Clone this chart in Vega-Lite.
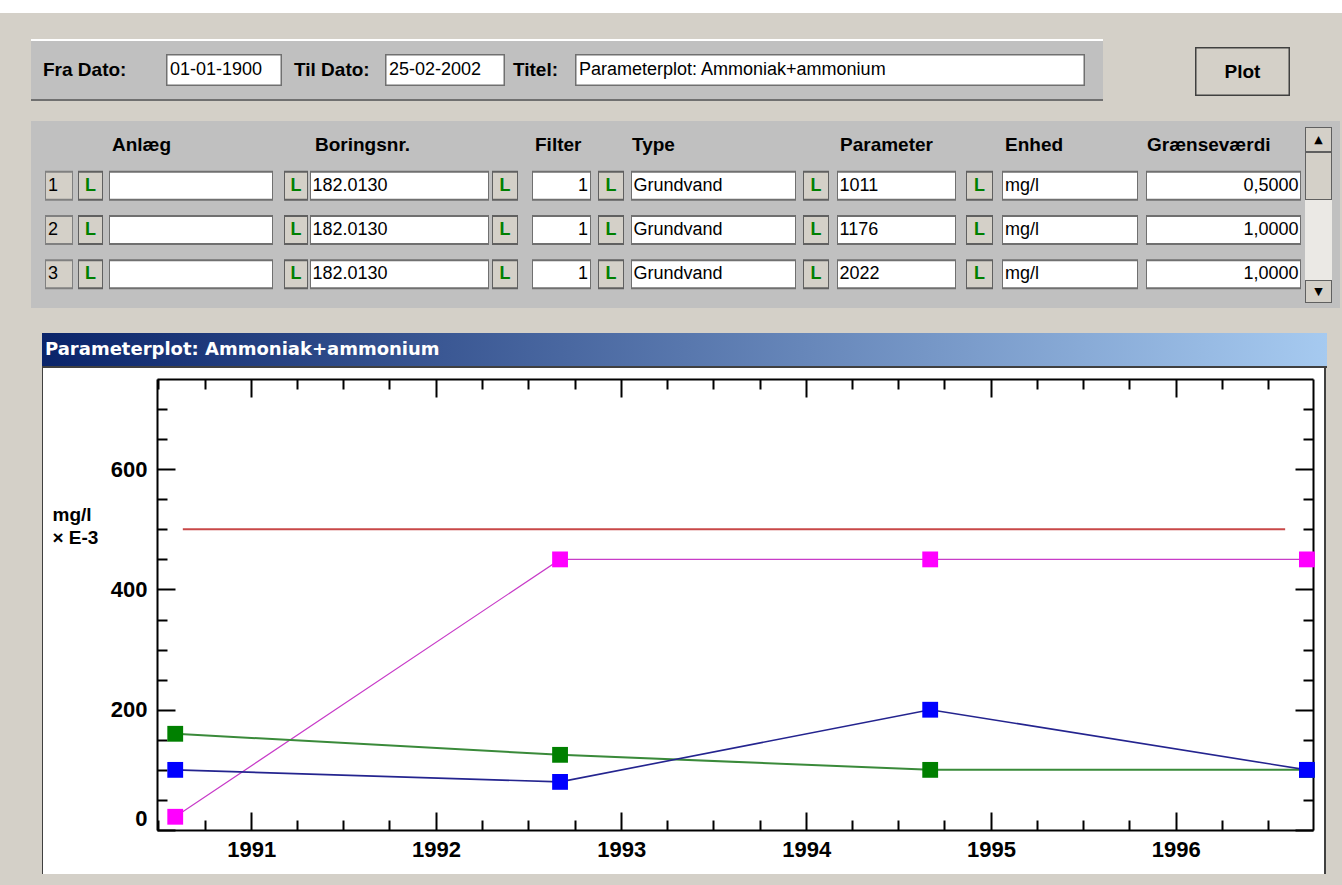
{
"$schema":"https://vega.github.io/schema/vega-lite/v6.json",
"background":"#d4d0c8",
"padding":0,
"spacing":0,
"config":{"view":{"stroke":null},"concat":{"spacing":0},"text":{"font":"Liberation Sans","fontSize":18,"color":"black"}},
"datasets":{
 "rows":[
  {"nr":"1","anlaeg":"","boring":"182.0130","filter":"1","type":"Grundvand","param":"1011","enhed":"mg/l","graense":"0,5000"},
  {"nr":"2","anlaeg":"","boring":"182.0130","filter":"1","type":"Grundvand","param":"1176","enhed":"mg/l","graense":"1,0000"},
  {"nr":"3","anlaeg":"","boring":"182.0130","filter":"1","type":"Grundvand","param":"2022","enhed":"mg/l","graense":"1,0000"}
 ],
 "series":[
  {"s":"1011","date":"1990-08-04","v":22},{"s":"1011","date":"1992-09-02","v":450},{"s":"1011","date":"1994-09-03","v":450},{"s":"1011","date":"1996-09-16","v":450},
  {"s":"2022","date":"1990-08-04","v":160},{"s":"2022","date":"1992-09-02","v":125},{"s":"2022","date":"1994-09-03","v":100},{"s":"2022","date":"1996-09-16","v":100},
  {"s":"1176","date":"1990-08-04","v":100},{"s":"1176","date":"1992-09-02","v":80},{"s":"1176","date":"1994-09-03","v":200},{"s":"1176","date":"1996-09-16","v":100}
 ],
 "limit":[{"date":"1990-08-19","v":500},{"date":"1996-08-04","v":500}]
},
"vconcat":[
 {"width":1342,"height":13,"data":{"values":[]},"mark":"rect","encoding":{},"view":{"fill":"#ffffff"}},
 {"width":1342,"height":26,"data":{"values":[]},"mark":"rect","encoding":{},"view":{"fill":"#d4d0c8"}},
 {"hconcat":[
   {"width":31,"height":62,"data":{"values":[]},"mark":"rect","encoding":{},"view":{"fill":"#d4d0c8"}},
   {"vconcat":[
     {"width":1072,"height":2,"data":{"values":[]},"mark":"rect","encoding":{},"view":{"fill":"#ffffff"}},
     {"hconcat":[
       {"width":135,"height":58,"data":{"values":[{"t":"Fra Dato:"}]},"mark":{"type":"text","align":"left","dx":-55.5,"fontWeight":"bold","fontSize":19},"encoding":{"text":{"field":"t"}},"view":{"fill":"#c0c0c0"}},
       {"vconcat":[
         {"width":116,"height":13,"data":{"values":[]},"mark":"rect","encoding":{},"view":{"fill":"#c0c0c0"}},
         {"width":116,"height":32,"data":{"values":[{"t":"01-01-1900"}]},"layer":[{"mark":{"type":"rect","fill":"white","stroke":"#707070","strokeWidth":3,"clip":true},"encoding":{}},{"mark":{"type":"text","align":"left","dx":-54},"encoding":{"text":{"field":"t"}}}]},
         {"width":116,"height":13,"data":{"values":[]},"mark":"rect","encoding":{},"view":{"fill":"#c0c0c0"}}
       ],"spacing":0},
       {"width":103,"height":58,"data":{"values":[{"t":"Til Dato:"}]},"mark":{"type":"text","align":"left","dx":-39.5,"fontWeight":"bold","fontSize":19},"encoding":{"text":{"field":"t"}},"view":{"fill":"#c0c0c0"}},
       {"vconcat":[
         {"width":120,"height":13,"data":{"values":[]},"mark":"rect","encoding":{},"view":{"fill":"#c0c0c0"}},
         {"width":120,"height":32,"data":{"values":[{"t":"25-02-2002"}]},"layer":[{"mark":{"type":"rect","fill":"white","stroke":"#707070","strokeWidth":3,"clip":true},"encoding":{}},{"mark":{"type":"text","align":"left","dx":-56},"encoding":{"text":{"field":"t"}}}]},
         {"width":120,"height":13,"data":{"values":[]},"mark":"rect","encoding":{},"view":{"fill":"#c0c0c0"}}
       ],"spacing":0},
       {"width":70,"height":58,"data":{"values":[{"t":"Titel:"}]},"mark":{"type":"text","align":"left","dx":-27,"fontWeight":"bold","fontSize":19},"encoding":{"text":{"field":"t"}},"view":{"fill":"#c0c0c0"}},
       {"vconcat":[
         {"width":510,"height":13,"data":{"values":[]},"mark":"rect","encoding":{},"view":{"fill":"#c0c0c0"}},
         {"width":510,"height":32,"data":{"values":[{"t":"Parameterplot: Ammoniak+ammonium"}]},"layer":[{"mark":{"type":"rect","fill":"white","stroke":"#707070","strokeWidth":3,"clip":true},"encoding":{}},{"mark":{"type":"text","align":"left","dx":-251},"encoding":{"text":{"field":"t"}}}]},
         {"width":510,"height":13,"data":{"values":[]},"mark":"rect","encoding":{},"view":{"fill":"#c0c0c0"}}
       ],"spacing":0},
       {"width":18,"height":58,"data":{"values":[]},"mark":"rect","encoding":{},"view":{"fill":"#c0c0c0"}}
     ],"spacing":0},
     {"width":1072,"height":2,"data":{"values":[]},"mark":"rect","encoding":{},"view":{"fill":"#707070"}}
   ],"spacing":0},
   {"width":92,"height":62,"data":{"values":[]},"mark":"rect","encoding":{},"view":{"fill":"#d4d0c8"}},
   {"vconcat":[
     {"width":95,"height":8,"data":{"values":[]},"mark":"rect","encoding":{},"view":{"fill":"#d4d0c8"}},
     {"width":95,"height":49,"data":{"values":[{"t":"Plot"}]},"layer":[{"mark":{"type":"rect","fill":"#d4d0c8","stroke":"#404040","strokeWidth":3,"clip":true},"encoding":{}},{"mark":{"type":"text","fontWeight":"bold","fontSize":19},"encoding":{"text":{"field":"t"}}}]},
     {"width":95,"height":5,"data":{"values":[]},"mark":"rect","encoding":{},"view":{"fill":"#d4d0c8"}}
   ],"spacing":0},
   {"width":52,"height":62,"data":{"values":[]},"mark":"rect","encoding":{},"view":{"fill":"#d4d0c8"}}
 ],"spacing":0},
 {"width":1342,"height":20,"data":{"values":[]},"mark":"rect","encoding":{},"view":{"fill":"#d4d0c8"}},
 {"hconcat":[
   {"width":31,"height":187,"data":{"values":[]},"mark":"rect","encoding":{},"view":{"fill":"#d4d0c8"}},
   {"vconcat":[
     {"hconcat":[
       {"width":14,"height":176,"data":{"values":[]},"mark":"rect","encoding":{},"view":{"fill":"#c0c0c0"}},
       {"vconcat":[
         {"width":28,"height":42,"data":{"values":[]},"mark":"rect","encoding":{},"view":{"fill":"#c0c0c0"}},
         {"width":28,"height":134,"data":{"name":"rows"},"encoding":{"y":{"field":"nr","type":"ordinal","axis":null,"scale":{"paddingInner":0.37,"paddingOuter":0.2}}},"layer":[{"mark":{"type":"rect","fill":"#d4d0c8","stroke":"#808080","strokeWidth":2,"clip":true}},{"mark":{"type":"text","align":"left","dx":-11},"encoding":{"text":{"field":"nr"}}}],"view":{"fill":"#c0c0c0"}}
       ],"spacing":0},
       {"width":5,"height":176,"data":{"values":[]},"mark":"rect","encoding":{},"view":{"fill":"#c0c0c0"}},
       {"vconcat":[
         {"width":25,"height":42,"data":{"values":[]},"mark":"rect","encoding":{},"view":{"fill":"#c0c0c0"}},
         {"width":25,"height":134,"data":{"name":"rows"},"encoding":{"y":{"field":"nr","type":"ordinal","axis":null,"scale":{"paddingInner":0.37,"paddingOuter":0.2}}},"layer":[{"mark":{"type":"rect","fill":"#d4d0c8","stroke":"#606060","strokeWidth":2,"clip":true}},{"mark":{"type":"text","fontWeight":"bold","color":"#008000"},"encoding":{"text":{"value":"L"}}}],"view":{"fill":"#c0c0c0"}}
       ],"spacing":0},
       {"width":6,"height":176,"data":{"values":[]},"mark":"rect","encoding":{},"view":{"fill":"#c0c0c0"}},
       {"vconcat":[
         {"width":164,"height":42,"data":{"values":[{"t":"Anlæg"}]},"mark":{"type":"text","align":"left","dx":-79,"dy":3,"fontWeight":"bold","fontSize":19},"encoding":{"text":{"field":"t"}},"view":{"fill":"#c0c0c0"}},
         {"width":164,"height":134,"data":{"name":"rows"},"encoding":{"y":{"field":"nr","type":"ordinal","axis":null,"scale":{"paddingInner":0.37,"paddingOuter":0.2}}},"layer":[{"mark":{"type":"rect","fill":"white","stroke":"#707070","strokeWidth":2,"clip":true}},{"mark":{"type":"text","align":"left","dx":-79},"encoding":{"text":{"field":"anlaeg"}}}],"view":{"fill":"#c0c0c0"}}
       ],"spacing":0},
       {"width":11,"height":176,"data":{"values":[]},"mark":"rect","encoding":{},"view":{"fill":"#c0c0c0"}},
       {"vconcat":[
         {"width":24,"height":42,"data":{"values":[]},"mark":"rect","encoding":{},"view":{"fill":"#c0c0c0"}},
         {"width":24,"height":134,"data":{"name":"rows"},"encoding":{"y":{"field":"nr","type":"ordinal","axis":null,"scale":{"paddingInner":0.37,"paddingOuter":0.2}}},"layer":[{"mark":{"type":"rect","fill":"#d4d0c8","stroke":"#606060","strokeWidth":2,"clip":true}},{"mark":{"type":"text","fontWeight":"bold","color":"#008000"},"encoding":{"text":{"value":"L"}}}],"view":{"fill":"#c0c0c0"}}
       ],"spacing":0},
       {"width":2,"height":176,"data":{"values":[]},"mark":"rect","encoding":{},"view":{"fill":"#c0c0c0"}},
       {"vconcat":[
         {"width":179,"height":42,"data":{"values":[{"t":"Boringsnr."}]},"mark":{"type":"text","align":"left","dx":-84.5,"dy":3,"fontWeight":"bold","fontSize":19},"encoding":{"text":{"field":"t"}},"view":{"fill":"#c0c0c0"}},
         {"width":179,"height":134,"data":{"name":"rows"},"encoding":{"y":{"field":"nr","type":"ordinal","axis":null,"scale":{"paddingInner":0.37,"paddingOuter":0.2}}},"layer":[{"mark":{"type":"rect","fill":"white","stroke":"#707070","strokeWidth":2,"clip":true}},{"mark":{"type":"text","align":"left","dx":-87},"encoding":{"text":{"field":"boring"}}}],"view":{"fill":"#c0c0c0"}}
       ],"spacing":0},
       {"width":3,"height":176,"data":{"values":[]},"mark":"rect","encoding":{},"view":{"fill":"#c0c0c0"}},
       {"vconcat":[
         {"width":26,"height":42,"data":{"values":[]},"mark":"rect","encoding":{},"view":{"fill":"#c0c0c0"}},
         {"width":26,"height":134,"data":{"name":"rows"},"encoding":{"y":{"field":"nr","type":"ordinal","axis":null,"scale":{"paddingInner":0.37,"paddingOuter":0.2}}},"layer":[{"mark":{"type":"rect","fill":"#d4d0c8","stroke":"#606060","strokeWidth":2,"clip":true}},{"mark":{"type":"text","fontWeight":"bold","color":"#008000"},"encoding":{"text":{"value":"L"}}}],"view":{"fill":"#c0c0c0"}}
       ],"spacing":0},
       {"width":14,"height":176,"data":{"values":[]},"mark":"rect","encoding":{},"view":{"fill":"#c0c0c0"}},
       {"vconcat":[
         {"width":59,"height":42,"data":{"values":[{"t":"Filter"}]},"mark":{"type":"text","align":"left","dx":-26.5,"dy":3,"fontWeight":"bold","fontSize":19},"encoding":{"text":{"field":"t"}},"view":{"fill":"#c0c0c0"}},
         {"width":59,"height":134,"data":{"name":"rows"},"encoding":{"y":{"field":"nr","type":"ordinal","axis":null,"scale":{"paddingInner":0.37,"paddingOuter":0.2}}},"layer":[{"mark":{"type":"rect","fill":"white","stroke":"#707070","strokeWidth":2,"clip":true}},{"mark":{"type":"text","align":"right","dx":26.5},"encoding":{"text":{"field":"filter"}}}],"view":{"fill":"#c0c0c0"}}
       ],"spacing":0},
       {"width":7,"height":176,"data":{"values":[]},"mark":"rect","encoding":{},"view":{"fill":"#c0c0c0"}},
       {"vconcat":[
         {"width":26,"height":42,"data":{"values":[]},"mark":"rect","encoding":{},"view":{"fill":"#c0c0c0"}},
         {"width":26,"height":134,"data":{"name":"rows"},"encoding":{"y":{"field":"nr","type":"ordinal","axis":null,"scale":{"paddingInner":0.37,"paddingOuter":0.2}}},"layer":[{"mark":{"type":"rect","fill":"#d4d0c8","stroke":"#606060","strokeWidth":2,"clip":true}},{"mark":{"type":"text","fontWeight":"bold","color":"#008000"},"encoding":{"text":{"value":"L"}}}],"view":{"fill":"#c0c0c0"}}
       ],"spacing":0},
       {"width":7,"height":176,"data":{"values":[]},"mark":"rect","encoding":{},"view":{"fill":"#c0c0c0"}},
       {"vconcat":[
         {"width":165,"height":42,"data":{"values":[{"t":"Type"}]},"mark":{"type":"text","align":"left","dx":-81.5,"dy":3,"fontWeight":"bold","fontSize":19},"encoding":{"text":{"field":"t"}},"view":{"fill":"#c0c0c0"}},
         {"width":165,"height":134,"data":{"name":"rows"},"encoding":{"y":{"field":"nr","type":"ordinal","axis":null,"scale":{"paddingInner":0.37,"paddingOuter":0.2}}},"layer":[{"mark":{"type":"rect","fill":"white","stroke":"#707070","strokeWidth":2,"clip":true}},{"mark":{"type":"text","align":"left","dx":-80},"encoding":{"text":{"field":"type"}}}],"view":{"fill":"#c0c0c0"}}
       ],"spacing":0},
       {"width":7,"height":176,"data":{"values":[]},"mark":"rect","encoding":{},"view":{"fill":"#c0c0c0"}},
       {"vconcat":[
         {"width":26,"height":42,"data":{"values":[]},"mark":"rect","encoding":{},"view":{"fill":"#c0c0c0"}},
         {"width":26,"height":134,"data":{"name":"rows"},"encoding":{"y":{"field":"nr","type":"ordinal","axis":null,"scale":{"paddingInner":0.37,"paddingOuter":0.2}}},"layer":[{"mark":{"type":"rect","fill":"#d4d0c8","stroke":"#606060","strokeWidth":2,"clip":true}},{"mark":{"type":"text","fontWeight":"bold","color":"#008000"},"encoding":{"text":{"value":"L"}}}],"view":{"fill":"#c0c0c0"}}
       ],"spacing":0},
       {"width":8,"height":176,"data":{"values":[]},"mark":"rect","encoding":{},"view":{"fill":"#c0c0c0"}},
       {"vconcat":[
         {"width":119,"height":42,"data":{"values":[{"t":"Parameter"}]},"mark":{"type":"text","align":"left","dx":-56.5,"dy":3,"fontWeight":"bold","fontSize":19},"encoding":{"text":{"field":"t"}},"view":{"fill":"#c0c0c0"}},
         {"width":119,"height":134,"data":{"name":"rows"},"encoding":{"y":{"field":"nr","type":"ordinal","axis":null,"scale":{"paddingInner":0.37,"paddingOuter":0.2}}},"layer":[{"mark":{"type":"rect","fill":"white","stroke":"#707070","strokeWidth":2,"clip":true}},{"mark":{"type":"text","align":"left","dx":-57},"encoding":{"text":{"field":"param"}}}],"view":{"fill":"#c0c0c0"}}
       ],"spacing":0},
       {"width":10,"height":176,"data":{"values":[]},"mark":"rect","encoding":{},"view":{"fill":"#c0c0c0"}},
       {"vconcat":[
         {"width":27,"height":42,"data":{"values":[]},"mark":"rect","encoding":{},"view":{"fill":"#c0c0c0"}},
         {"width":27,"height":134,"data":{"name":"rows"},"encoding":{"y":{"field":"nr","type":"ordinal","axis":null,"scale":{"paddingInner":0.37,"paddingOuter":0.2}}},"layer":[{"mark":{"type":"rect","fill":"#d4d0c8","stroke":"#606060","strokeWidth":2,"clip":true}},{"mark":{"type":"text","fontWeight":"bold","color":"#008000"},"encoding":{"text":{"value":"L"}}}],"view":{"fill":"#c0c0c0"}}
       ],"spacing":0},
       {"width":9,"height":176,"data":{"values":[]},"mark":"rect","encoding":{},"view":{"fill":"#c0c0c0"}},
       {"vconcat":[
         {"width":136,"height":42,"data":{"values":[{"t":"Enhed"}]},"mark":{"type":"text","align":"left","dx":-65,"dy":3,"fontWeight":"bold","fontSize":19},"encoding":{"text":{"field":"t"}},"view":{"fill":"#c0c0c0"}},
         {"width":136,"height":134,"data":{"name":"rows"},"encoding":{"y":{"field":"nr","type":"ordinal","axis":null,"scale":{"paddingInner":0.37,"paddingOuter":0.2}}},"layer":[{"mark":{"type":"rect","fill":"white","stroke":"#707070","strokeWidth":2,"clip":true}},{"mark":{"type":"text","align":"left","dx":-65},"encoding":{"text":{"field":"enhed"}}}],"view":{"fill":"#c0c0c0"}}
       ],"spacing":0},
       {"width":8,"height":176,"data":{"values":[]},"mark":"rect","encoding":{},"view":{"fill":"#c0c0c0"}},
       {"vconcat":[
         {"width":155,"height":42,"data":{"values":[{"t":"Grænseværdi"}]},"mark":{"type":"text","align":"left","dx":-76.5,"dy":3,"fontWeight":"bold","fontSize":19},"encoding":{"text":{"field":"t"}},"view":{"fill":"#c0c0c0"}},
         {"width":155,"height":134,"data":{"name":"rows"},"encoding":{"y":{"field":"nr","type":"ordinal","axis":null,"scale":{"paddingInner":0.37,"paddingOuter":0.2}}},"layer":[{"mark":{"type":"rect","fill":"white","stroke":"#707070","strokeWidth":2,"clip":true}},{"mark":{"type":"text","align":"right","dx":75},"encoding":{"text":{"field":"graense"}}}],"view":{"fill":"#c0c0c0"}}
       ],"spacing":0},
       {"width":4,"height":176,"data":{"values":[]},"mark":"rect","encoding":{},"view":{"fill":"#c0c0c0"}}
     ],"spacing":0},
     {"width":1274,"height":11,"data":{"values":[]},"mark":"rect","encoding":{},"view":{"fill":"#c0c0c0"}}
   ],"spacing":0},
   {"vconcat":[
     {"width":27,"height":6,"data":{"values":[]},"mark":"rect","encoding":{},"view":{"fill":"#c0c0c0"}},
     {"width":27,"height":25,"data":{"values":[{"t":"▲"}]},"layer":[{"mark":{"type":"rect","fill":"#d4d0c8","stroke":"#606060","strokeWidth":2,"clip":true},"encoding":{}},{"mark":{"type":"text","font":"DejaVu Sans","fontSize":11},"encoding":{"text":{"field":"t"}}}]},
     {"width":27,"height":48,"data":{"values":[{}]},"mark":{"type":"rect","fill":"#d4d0c8","stroke":"#606060","strokeWidth":2,"clip":true},"encoding":{}},
     {"width":27,"height":80,"data":{"values":[]},"mark":"rect","encoding":{},"view":{"fill":"#ebe9e5"}},
     {"width":27,"height":23,"data":{"values":[{"t":"▼"}]},"layer":[{"mark":{"type":"rect","fill":"#d4d0c8","stroke":"#606060","strokeWidth":2,"clip":true},"encoding":{}},{"mark":{"type":"text","font":"DejaVu Sans","fontSize":11},"encoding":{"text":{"field":"t"}}}]},
     {"width":27,"height":5,"data":{"values":[]},"mark":"rect","encoding":{},"view":{"fill":"#c0c0c0"}}
   ],"spacing":0},
   {"width":8,"height":187,"data":{"values":[]},"mark":"rect","encoding":{},"view":{"fill":"#c0c0c0"}},
   {"width":2,"height":187,"data":{"values":[]},"mark":"rect","encoding":{},"view":{"fill":"#d4d0c8"}}
 ],"spacing":0},
 {"width":1342,"height":17,"data":{"values":[]},"mark":"rect","encoding":{},"view":{"fill":"#d4d0c8"}},
 {"hconcat":[
   {"width":42,"height":560,"data":{"values":[]},"mark":"rect","encoding":{},"view":{"fill":"#d4d0c8"}},
   {"vconcat":[
     {"width":1285,"height":8,"data":{"values":[]},"mark":"rect","encoding":{},"view":{"fill":"#d4d0c8"}},
     {"width":1285,"height":33,"data":{"values":[{"t":"Parameterplot: Ammoniak+ammonium"}]},
      "layer":[
        {"mark":{"type":"rect","color":{"gradient":"linear","x1":0,"y1":0,"x2":1,"y2":0,"stops":[{"offset":0,"color":"#0a246a"},{"offset":1,"color":"#a6caf0"}]}},"encoding":{}},
        {"mark":{"type":"text","align":"left","dx":-639.5,"color":"white","font":"DejaVu Sans","fontWeight":"bold","fontSize":18},"encoding":{"text":{"field":"t"}}}
      ]},
     {"width":1285,"height":2,"data":{"values":[]},"mark":"rect","encoding":{},"view":{"fill":"#404040"}},
     {"hconcat":[
       {"width":1,"height":506,"data":{"values":[]},"mark":"rect","encoding":{},"view":{"fill":"#404040"}},
       {"width":1281,"height":506,"view":{"fill":"white"},
        "layer":[
          {"data":{"name":"limit"},
           "mark":{"type":"line","color":"#c84848","strokeWidth":2,"clip":true},
           "encoding":{
             "x":{"field":"date","type":"temporal","scale":{"type":"utc","range":[114,1270],"domain":[{"year":1990,"month":6,"date":29,"utc":true},{"year":1996,"month":9,"date":28,"utc":true}]},
                  "axis":{"orient":"bottom","offset":-44,"tickCount":{"interval":"month","step":3},"labelExpr":"utcmonth(datum.value) == 0 ? utcFormat(datum.value, '%Y') : ''","tickSize":{"condition":{"test":"utcmonth(datum.value) == 0","value":-18},"value":-10},"tickWidth":2,"tickColor":"#000","domainColor":"#000","domainWidth":2,"labelFont":"Liberation Sans","labelFontSize":22,"labelFontWeight":"bold","labelColor":"#000","labelPadding":27,"labelOverlap":false,"labelFlush":false,"grid":false,"title":null}},
             "y":{"field":"v","type":"quantitative","scale":{"domain":[0,750],"nice":false,"range":[462,11]},
                  "axis":{"orient":"left","offset":-114,"values":[0,50,100,150,200,250,300,350,400,450,500,550,600,650,700],"labelExpr":"datum.value % 200 == 0 ? datum.label : ''","tickSize":{"condition":{"test":"datum.value % 200 == 0","value":-18},"value":-10},"tickWidth":2,"tickColor":"#000","domainColor":"#000","domainWidth":2,"labelFont":"Liberation Sans","labelFontSize":22,"labelFontWeight":"bold","labelColor":"#000","labelPadding":28,"labelFlush":true,"labelOverlap":false,"grid":false,
                          "title":["mg/l","× E-3"],"titleAngle":0,"titleAlign":"left","titleBaseline":"top","titleX":-105,"titleY":137,"titleFont":"Liberation Sans","titleFontSize":19,"titleFontWeight":"bold","titleColor":"#000","titleLineHeight":23}}
           }},
          {"data":{"name":"series"},
           "mark":{"type":"line","clip":true},
           "encoding":{
             "x":{"field":"date","type":"temporal","axis":null},
             "y":{"field":"v","type":"quantitative","axis":null},
             "stroke":{"field":"s","type":"nominal","scale":{"domain":["1011","1176","2022"],"range":["#c83cc8","#24248f","#3a8a3a"]},"legend":null},
             "strokeWidth":{"field":"s","type":"nominal","scale":{"domain":["1011","1176","2022"],"range":[1.2,2,1.6]},"legend":null}
           }},
          {"data":{"name":"series"},
           "mark":{"type":"square","size":250,"opacity":1,"filled":true,"clip":true},
           "encoding":{
             "x":{"field":"date","type":"temporal","axis":{"orient":"top","offset":-11,"tickCount":{"interval":"month","step":3},"labels":false,"tickSize":{"condition":{"test":"utcmonth(datum.value) == 0","value":-18},"value":-10},"tickWidth":2,"tickColor":"#000","domainColor":"#000","domainWidth":2,"grid":false,"title":null}},
             "y":{"field":"v","type":"quantitative","axis":{"orient":"right","offset":-11,"values":[0,50,100,150,200,250,300,350,400,450,500,550,600,650,700],"labels":false,"tickSize":{"condition":{"test":"datum.value % 200 == 0","value":-18},"value":-10},"tickWidth":2,"tickColor":"#000","domainColor":"#000","domainWidth":2,"grid":false,"title":null}},
             "fill":{"field":"s","type":"nominal","scale":{"domain":["1011","1176","2022"],"range":["#ff00ff","#0000ff","#008000"]},"legend":null}
           }}
        ],
        "resolve":{"axis":{"x":"independent","y":"independent"}}},
       {"width":2,"height":506,"data":{"values":[]},"mark":"rect","encoding":{},"view":{"fill":"#404040"}},
       {"width":1,"height":506,"data":{"values":[]},"mark":"rect","encoding":{},"view":{"fill":"#d4d0c8"}}
     ],"spacing":0},
     {"width":1285,"height":11,"data":{"values":[]},"mark":"rect","encoding":{},"view":{"fill":"#d4d0c8"}}
   ],"spacing":0},
   {"width":15,"height":560,"data":{"values":[]},"mark":"rect","encoding":{},"view":{"fill":"#d4d0c8"}}
 ],"spacing":0}
]
}
